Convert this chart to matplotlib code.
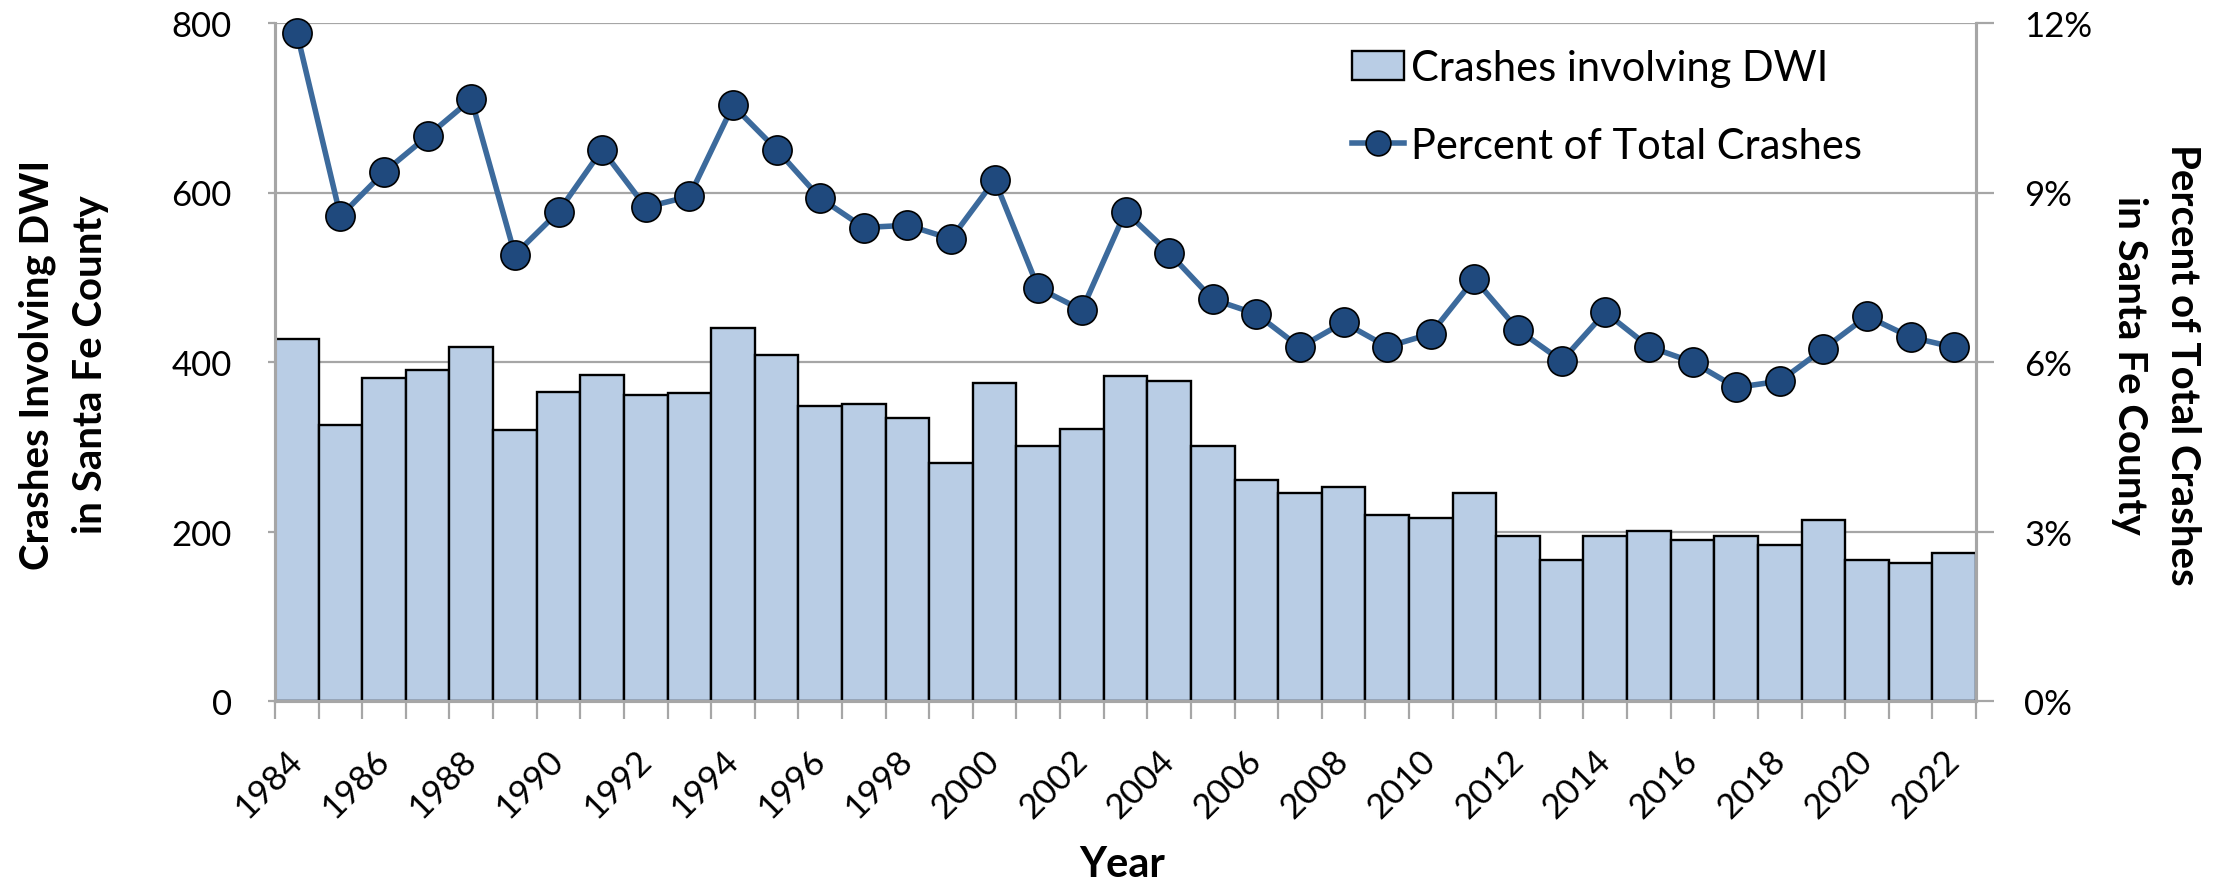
import matplotlib
matplotlib.use("Agg")
import matplotlib.pyplot as plt
from matplotlib.ticker import FuncFormatter, FixedLocator

plt.rcParams['font.family'] = ['Lato', 'DejaVu Sans']

years = list(range(1984, 2023))
dwi_crashes = [427, 326, 381, 390, 418, 320, 365, 385, 361, 363,
               440, 408, 348, 350, 334, 281, 375, 301, 321, 383,
               377, 301, 261, 245, 252, 220, 216, 245, 195, 166,
               195, 201, 190, 195, 184, 213, 166, 163, 175]
pct_total = [11.83, 8.58, 9.36, 10.00, 10.65, 7.90, 8.66, 9.76, 8.74, 8.93,
             10.54, 9.76, 8.90, 8.38, 8.42, 8.18, 9.22, 7.31, 6.92, 8.66,
             7.93, 7.11, 6.85, 6.26, 6.70, 6.27, 6.50, 7.47, 6.57, 6.02,
             6.88, 6.27, 6.00, 5.55, 5.66, 6.23, 6.81, 6.44, 6.26]
label_years = years[::2]
left_ticks = [0, 200, 400, 600, 800]
right_ticks = [0, 3, 6, 9, 12]

W, H = 2229, 887
fig = plt.figure(figsize=(W / 100, H / 100), dpi=100)
ax = fig.add_axes([275 / W, 1 - 702 / H, 1701 / W, 678 / H])
ax2 = ax.twinx()

grid_c = '#A6A6A6'
bar_c = '#B9CDE5'
line_c = '#3C6A9C'
mk_c = '#1F497D'

ax.set_axisbelow(True)
bars = ax.bar(years, dwi_crashes, width=1.0, color=bar_c, edgecolor='black',
              linewidth=1.7, label='Crashes involving DWI', zorder=2)
ax.set_xlim(years[0] - 0.5, years[-1] + 0.5)
ax.set_ylim(0, 800)
ax.set_yticks(left_ticks)
ax.yaxis.grid(True, color=grid_c, linewidth=1.6)
ax.tick_params(axis='y', length=5, width=1.6, color=grid_c, pad=26, labelsize=25)

ax.set_xticks(label_years)
ax.set_xticklabels([str(y) for y in label_years], rotation=45, ha='right',
                   va='center', rotation_mode='anchor', fontsize=25)
ax.tick_params(axis='x', which='major', length=0, pad=39)
ax.xaxis.set_minor_locator(FixedLocator([y - 0.5 for y in years] + [years[-1] + 0.5]))
ax.tick_params(axis='x', which='minor', length=13, width=1.6, color=grid_c)

for sp in ['left', 'bottom', 'right']:
    ax.spines[sp].set_color(grid_c)
    ax.spines[sp].set_linewidth(2.2)
    ax2.spines[sp].set_color(grid_c)
    ax2.spines[sp].set_linewidth(2.2)
ax.spines['top'].set_visible(False)
ax2.spines['top'].set_visible(False)

line, = ax2.plot(years, pct_total, color=line_c, linewidth=4.0, marker='o',
                 markersize=21, markerfacecolor=mk_c, markeredgecolor='black',
                 markeredgewidth=1.2, label='Percent of Total Crashes',
                 clip_on=False, zorder=3)
ax2.set_ylim(0, 12)
ax2.set_yticks(right_ticks)
ax2.yaxis.set_major_formatter(FuncFormatter(lambda v, p: f"{v:.0f}%"))
ax2.tick_params(axis='y', length=13, width=1.6, color=grid_c, pad=21.6, labelsize=25)

fig.text(64 / W, 1 - 365 / H, 'Crashes Involving DWI\nin Santa Fe County',
         rotation=90, ha='center', va='center', fontsize=29, fontweight='bold',
         linespacing=1.55)
fig.text(2156 / W, 1 - 365 / H, 'Percent of Total Crashes\nin Santa Fe County',
         rotation=270, ha='center', va='center', fontsize=29, fontweight='bold',
         linespacing=1.55)
fig.text(1122 / W, 1 - 865 / H, 'Year', ha='center', va='center',
         fontsize=30, fontweight='bold')

leg = ax2.legend([bars, line], ['Crashes involving DWI', 'Percent of Total Crashes'],
                 loc='upper left', bbox_to_anchor=((1352 - 275) / 1701, 1 - 26 / 678),
                 frameon=False, fontsize=30, borderpad=0, borderaxespad=0,
                 handlelength=1.25, handletextpad=0.17, labelspacing=0.95,
                 markerscale=0.85)

fig.savefig('out.png', dpi=100)
